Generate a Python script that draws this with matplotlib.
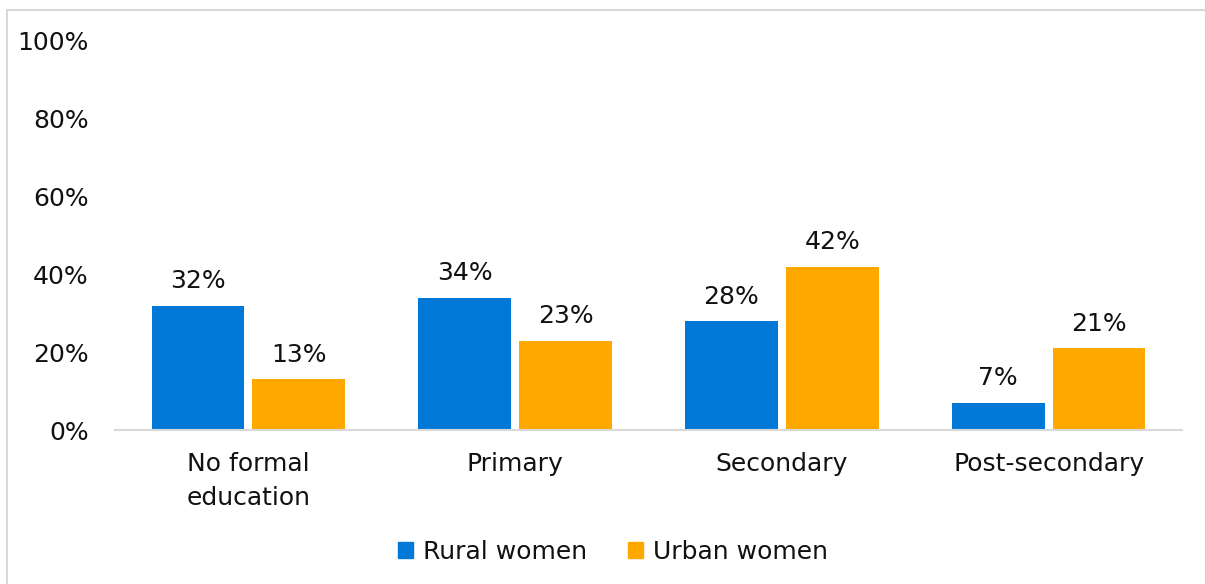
import matplotlib
matplotlib.use("Agg")
import matplotlib.pyplot as plt
from matplotlib.patches import Rectangle, Patch
import numpy as np

categories = ["No formal\neducation", "Primary", "Secondary", "Post-secondary"]
rural = [32, 34, 28, 7]
urban = [13, 23, 42, 21]
series_names = ["Rural women", "Urban women"]
yticks = [0, 20, 40, 60, 80, 100]
ytick_labels = ["0%", "20%", "40%", "60%", "80%", "100%"]

BLUE = "#0078D7"
ORANGE = "#FFA800"
TEXT = "#111111"
FS = 18

plt.rcParams["font.family"] = ["DejaVu Sans"]

fig = plt.figure(figsize=(12.05, 5.84), dpi=100)
W, H = 1205, 584
ax = fig.add_axes([115 / W, 1 - 430 / H, (1182 - 115) / W, (430 - 41) / H])

x = np.arange(len(categories))
bw = 0.348
gap = 0.015
b1 = ax.bar(x - bw / 2 - gap, rural, bw, color=BLUE, label=series_names[0])
b2 = ax.bar(x + bw / 2 + gap, urban, bw, color=ORANGE, label=series_names[1])

for bars, vals in ((b1, rural), (b2, urban)):
    for rect, v in zip(bars, vals):
        ax.annotate(f"{v:.0f}%", (rect.get_x() + rect.get_width() / 2, rect.get_height()),
                    xytext=(0, 9), textcoords="offset points", ha="center", va="bottom",
                    fontsize=FS, color=TEXT)

ax.set_xlim(-0.5, len(categories) - 0.5)
ax.set_ylim(0, 100)
ax.set_yticks(yticks)
ax.set_yticklabels(ytick_labels, fontsize=FS, color=TEXT)
ax.set_xticks(x)
ax.set_xticklabels(categories, fontsize=FS, color=TEXT, linespacing=1.5)
ax.tick_params(axis="both", length=0)
ax.tick_params(axis="y", pad=19)
ax.tick_params(axis="x", pad=16)

for s in ("top", "right", "left"):
    ax.spines[s].set_visible(False)
ax.spines["bottom"].set_color("#D9D9D9")
ax.spines["bottom"].set_linewidth(1.5)

handles = [Patch(color=BLUE), Patch(color=ORANGE)]
fig.legend(handles, series_names, loc="center", bbox_to_anchor=(613 / W, 1 - 552 / H),
           ncol=2, frameon=False, fontsize=FS, handlelength=0.6, handleheight=0.6,
           handletextpad=0.4, columnspacing=1.6, labelcolor=TEXT)

# chart frame
fig.patches.append(Rectangle((7 / W, -0.1), 1.2, 1 - 10 / H + 0.1, transform=fig.transFigure,
                             fill=False, edgecolor="#D9D9D9", linewidth=1.5))

fig.savefig("out.png", dpi=100)
